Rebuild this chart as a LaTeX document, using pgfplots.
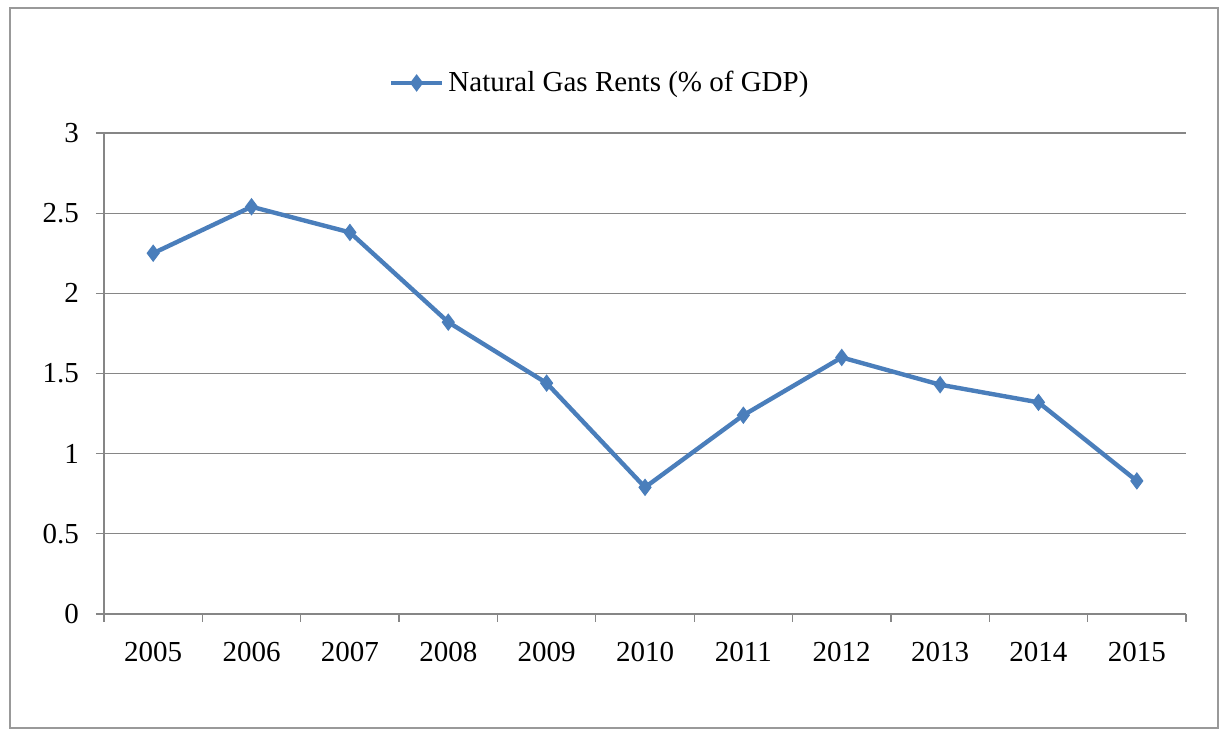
\documentclass[border=0pt]{standalone}
\usepackage{pgfplots}
\pgfplotsset{compat=1.18}
\usepackage{fontspec}
\setmainfont{Liberation Serif}
\definecolor{gasblue}{HTML}{4A7EBB}
\definecolor{gridgray}{HTML}{868686}

\pgfplotstableread{
idx year value
0 2005 2.25
1 2006 2.54
2 2007 2.38
3 2008 1.82
4 2009 1.44
5 2010 0.79
6 2011 1.24
7 2012 1.60
8 2013 1.43
9 2014 1.32
10 2015 0.83
}\gasrents

\begin{document}
\begin{tikzpicture}
  \useasboundingbox (0pt,0pt) rectangle (610.5pt,365.5pt);
  \draw[gray!80, line width=0.8pt] (5pt,1.5pt) rectangle (609pt,361.5pt);
  \begin{axis}[
    at={(52pt,58.5pt)}, anchor=south west,
    scale only axis,
    width=541pt, height=240.5pt,
    font=\fontsize{14.5}{16}\selectfont,
    xmin=-0.5, xmax=10.5,
    ymin=0, ymax=3,
    ytick={0,0.5,...,3},
    yticklabel style={/pgf/number format/fixed, /pgf/number format/assume math mode=true},
    xtick={-0.5,0.5,...,10.5},
    x tick label as interval,
    xticklabels={2005,2006,2007,2008,2009,2010,2011,2012,2013,2014,2015},
    axis x line*=bottom, axis y line*=left,
    axis line style={gridgray, line width=0.6pt},
    tick style={gridgray, line width=0.6pt},
    tick align=outside, major tick length=4pt,
    ymajorgrids, grid style={gridgray, line width=0.6pt},
    xticklabel style={yshift=-6.5pt},
    yticklabel style={xshift=-5pt},
    legend style={at={(0.459,1.104)}, anchor=center, draw=none, fill=none,
      font=\fontsize{14.5}{16}\selectfont},
    legend cell align=left,
    legend image code/.code={
      \draw[#1, mark repeat=2, mark phase=2] plot coordinates {(0cm,0cm) (0.45cm,0cm) (0.9cm,0cm)};
    },
  ]
    \addplot[gasblue, line width=2.2pt, mark=diamond*, mark size=4pt,
      mark options={solid, fill=gasblue, draw=gasblue, line width=0.5pt}]
      table[x=idx, y=value] {\gasrents};
    \addlegendentry{Natural Gas Rents (\% of GDP)}
  \end{axis}
\end{tikzpicture}
\end{document}
